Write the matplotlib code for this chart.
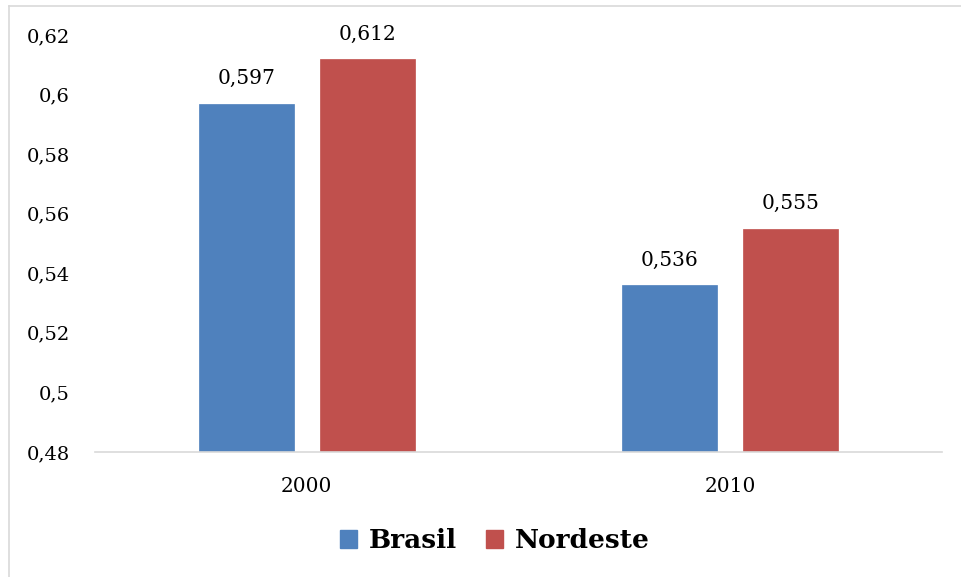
import matplotlib
matplotlib.use("Agg")
import matplotlib.pyplot as plt
from matplotlib.lines import Line2D
from matplotlib.patches import Patch
import numpy as np

categories = ["2000", "2010"]
brasil = [0.597, 0.536]
nordeste = [0.612, 0.555]
yticks = [0.48, 0.50, 0.52, 0.54, 0.56, 0.58, 0.60, 0.62]
ytick_labels = ["0,48", "0,5", "0,52", "0,54", "0,56", "0,58", "0,6", "0,62"]
series_names = ["Brasil", "Nordeste"]
colors = ["#4F81BD", "#C0504D"]

plt.rcParams['font.family'] = ['DejaVu Serif']

W, H = 962, 577
fig = plt.figure(figsize=(W/100, H/100), dpi=100)
ax = fig.add_axes([95/W, (H-452)/H, (942-95)/W, (452-35)/H])

x = np.arange(len(categories))
bw = 0.224
off = 0.143
for vals, o, c in [(brasil, -off, colors[0]), (nordeste, off, colors[1])]:
    ax.bar(x + o, vals, width=bw, color=c, edgecolor=c, linewidth=0.5)
    for xi, v in zip(x + o, vals):
        ax.annotate(f"{v:.3f}".replace(".", ","), (xi, v), xytext=(0, 11),
                    textcoords="offset points", ha="center", va="bottom", fontsize=14.5)

ax.set_xlim(-0.5, 1.5)
ax.set_ylim(0.48, 0.62)
ax.set_yticks(yticks)
ax.set_yticklabels(ytick_labels)
ax.set_xticks(x)
ax.set_xticklabels(categories)
ax.tick_params(axis='y', length=0, pad=18, labelsize=14)
ax.tick_params(axis='x', length=0, pad=18, labelsize=14.5)
for s in ["top", "right", "left"]:
    ax.spines[s].set_visible(False)
ax.spines["bottom"].set_color("#D9D9D9")
ax.spines["bottom"].set_linewidth(1.2)

handles = [Patch(facecolor=c, edgecolor=c) for c in colors]
fig.legend(handles, series_names, loc="center", bbox_to_anchor=(495/W, 1-541/H),
           ncol=2, frameon=False, handlelength=0.65, handleheight=0.65,
           handletextpad=0.45, columnspacing=1.1,
           prop={'family': 'DejaVu Serif', 'weight': 'bold', 'size': 19})

# figure border (top and left edges visible)
fig.add_artist(Line2D([9/W, 1], [1-6/H, 1-6/H], transform=fig.transFigure,
                      color="#D9D9D9", linewidth=1.2))
fig.add_artist(Line2D([9/W, 9/W], [0, 1-6/H], transform=fig.transFigure,
                      color="#D9D9D9", linewidth=1.2))

fig.savefig("out.png", dpi=100)
